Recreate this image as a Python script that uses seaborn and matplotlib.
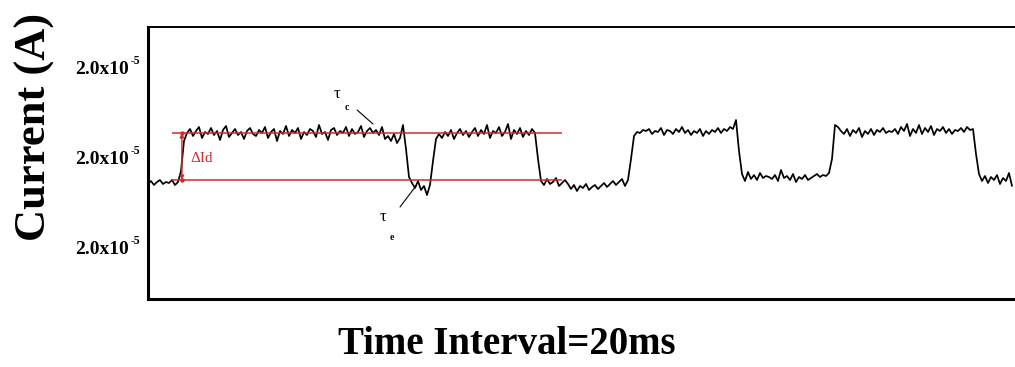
import numpy as np
import pandas as pd
import matplotlib
matplotlib.use("Agg")
import matplotlib.pyplot as plt
from matplotlib.transforms import blended_transform_factory
import seaborn as sns

# ---------------- data (current trace, arbitrary units) ----------------
low1 = [115, 118, 114, 117, 119, 115, 117, 116, 119, 114, 117]
rise1 = [128, 158]
high1 = [166, 170, 163, 168, 172, 161, 167, 165, 171, 164,
         168, 159, 169, 173, 162, 166, 170, 164, 167, 160,
         168, 171, 165, 163, 169, 166, 172, 161, 167, 170,
         158, 168, 165, 173, 163, 169, 166, 171, 160, 167,
         164, 170, 168, 162, 174, 165, 167, 159, 169, 171,
         164, 168, 166, 172, 163, 170, 165, 167, 173, 162,
         168, 171, 166, 169, 164, 172, 160, 163, 158, 165,
         156, 161, 174]
drop1 = [150, 122]
low2 = [116, 111, 118, 109, 113, 104, 114]
rise2 = [138, 160]
high2 = [165, 161, 167, 163, 169, 160, 166, 170, 164, 168,
         162, 167, 171, 163, 169, 165, 174, 161, 168, 166,
         172, 163, 167, 175, 160, 169, 165, 171, 162, 168,
         164, 170, 166]
drop2 = [140]
low3 = [118, 114, 120, 115, 117, 121, 113, 116, 119, 115,
        110, 114, 108, 113, 111, 115, 109, 112, 114, 110,
        113, 116, 112, 115, 118, 114, 117, 120, 113, 119]
rise3 = [140, 163]
high3 = [167, 166, 169, 168, 170, 165, 168, 167, 171, 164,
         169, 168, 165, 170, 167, 172, 166, 169, 164, 168,
         166, 170, 163, 168, 165, 169, 167, 171, 166, 170,
         168, 172, 170, 179]
drop3 = [148]
low4 = [125, 118, 127, 120, 124, 119, 126, 121, 123, 122,
        120, 124, 118, 129, 121, 123, 119, 125, 117, 122,
        120, 124, 119, 121, 123, 125, 122, 124, 123, 126]
rise4 = [140, 174]
high4 = [172, 168, 165, 170, 163, 169, 166, 171, 162, 168,
         165, 170, 164, 169, 167, 171, 166, 168, 167, 170,
         165, 172, 168, 175, 163, 170, 166, 174, 165, 171,
         167, 173, 164, 170, 168, 172, 166, 170, 165, 169,
         168, 171, 167, 172, 169, 170]
drop4 = [145]
low5 = [125, 118, 123, 116, 122, 119, 124, 115, 121, 118, 126, 113]

segments = [low1, rise1, high1, drop1, low2, rise2, high2, drop2, low3,
            rise3, high3, drop3, low4, rise4, high4, drop4, low5]
current = np.concatenate([np.array(s, dtype=float) for s in segments])
sample = np.arange(len(current))

# reference levels (red lines) and their sample span
level_high = 166
level_low = 119
level_span = [8, 138]
delta_x = 11.3

tick_values = [52, 142, 232]
tick_labels = ["2.0x10"] * 3
tick_exponent = "-5"

df = pd.DataFrame({"sample": sample, "current": current})

# ---------------- style ----------------
sns.set_theme(style="white")
plt.rcParams["font.family"] = ["Liberation Serif", "DejaVu Serif"]
plt.rcParams["text.color"] = "black"
plt.rcParams["ytick.color"] = "black"

W, H = 1015, 367
fig = plt.figure(figsize=(W / 100, H / 100), dpi=100)
left_px, right_px, top_px, bot_px = 148, 1030, 27, 299
ax = fig.add_axes([left_px / W, (H - bot_px) / H,
                   (right_px - left_px) / W, (bot_px - top_px) / H])

sns.lineplot(data=df, x="sample", y="current", ax=ax, color="black",
             linewidth=1.25, estimator=None)

red = "#d22a2a"
ax.hlines([level_high, level_low], level_span[0], level_span[1],
          color=red, linewidth=1.1, zorder=3)
ax.annotate("", xy=(delta_x, level_high), xytext=(delta_x, level_low),
            arrowprops=dict(arrowstyle="<|-|>", color=red, lw=1.0,
                            mutation_scale=6, shrinkA=0, shrinkB=0), zorder=4)
ax.scatter([delta_x, delta_x], [level_high, level_low], s=10, color=red,
           zorder=5, linewidths=0)
ax.text(14, 141, "ΔId", color=red, fontsize=11, va="center", ha="left")

# tau annotations
ax.text(63, 205, "τ", fontsize=12, ha="center", va="center", color="black")
ax.text(66.3, 192, "c", fontsize=7, fontweight="bold", ha="center",
        va="center", color="black")
ax.plot([69.7, 75], [189, 175], color="black", linewidth=0.8)

ax.text(78.3, 82, "τ", fontsize=12, ha="center", va="center", color="black")
ax.text(81.3, 61, "e", fontsize=7, fontweight="bold", ha="center",
        va="center", color="black")
ax.plot([84, 89.3], [92, 113], color="black", linewidth=0.8)

ax.set_xlim(0, (right_px - left_px) / 3)
ax.set_ylim(0, bot_px - top_px)
ax.set_xticks([])
ax.set_yticks(tick_values)
ax.set_yticklabels(tick_labels, fontsize=14, fontweight="bold")
ax.tick_params(axis="y", length=0, pad=14, colors="black")
ax.set_xlabel("")
ax.set_ylabel("")

trans = blended_transform_factory(ax.transAxes, ax.transData)
exp_x = (135 - left_px) / (right_px - left_px)
for tv in tick_values:
    ax.text(exp_x, tv + 6, tick_exponent, transform=trans, fontsize=8.5,
            fontweight="bold", ha="center", va="center", color="black")

for side in ["left", "bottom"]:
    ax.spines[side].set_linewidth(2.2)
    ax.spines[side].set_color("black")
ax.spines["top"].set_linewidth(1.4)
ax.spines["top"].set_color("black")
ax.spines["right"].set_visible(False)

fig.text(35 / W, 1 - 127 / H, "Current (A)", rotation=90, fontsize=32,
         fontweight="bold", ha="center", va="center", color="black")
fig.text(507 / W, 1 - 345 / H, "Time Interval=20ms", fontsize=28,
         fontweight="bold", ha="center", va="center", color="black")

fig.savefig("out.png", dpi=100, facecolor="white")
